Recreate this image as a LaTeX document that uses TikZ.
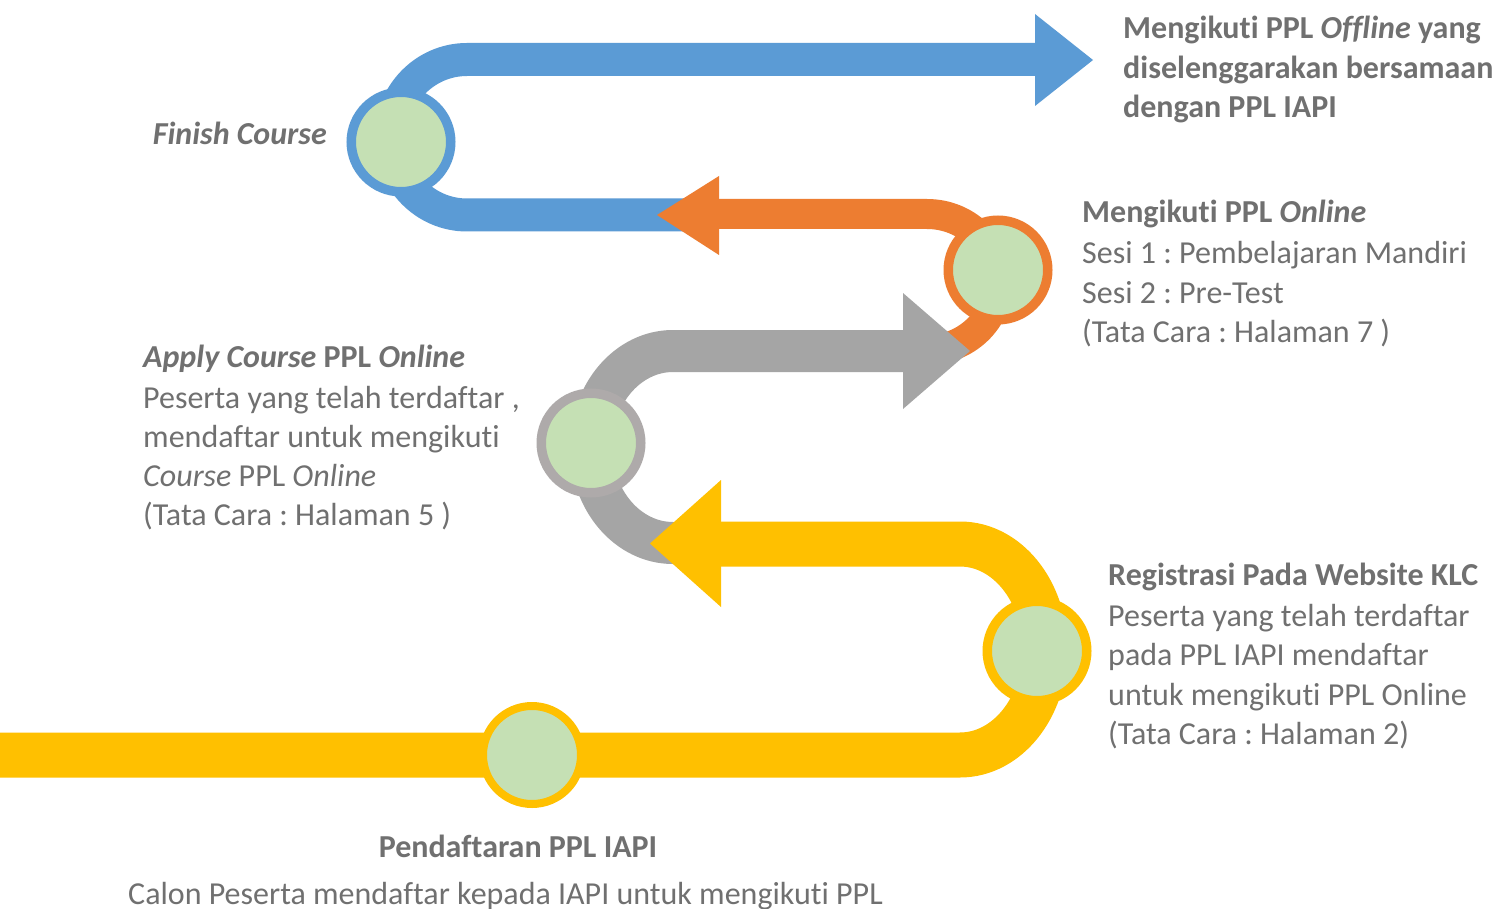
\documentclass[tikz,border=0pt]{standalone}
\usepackage{fontspec}
\setmainfont{Carlito}[Ligatures=NoCommon, Contextuals=NoAlternate, RawFeature={-liga;-clig;-dlig;-calt}]
\frenchspacing
\definecolor{cblue}{HTML}{5B9BD5}
\definecolor{corange}{HTML}{ED7D31}
\definecolor{cgray}{HTML}{A5A5A5}
\definecolor{cring}{HTML}{AEAAAA}
\definecolor{cyellow}{HTML}{FFC000}
\definecolor{leaf}{HTML}{C5E0B4}
\definecolor{txtgray}{HTML}{707070}
\begin{document}
\begin{tikzpicture}[x=1pt,y=-1pt,
  band/.style={line width=#1, line cap=butt, line join=round},
  ring/.style={circle, draw=#1, line width=9.5pt, fill=leaf, minimum size=99.5pt, inner sep=0pt},
  txt/.style={anchor=base west, inner sep=0pt, text=txtgray, font=\fontsize{32}{39}\selectfont},
  ttl/.style={txt, font=\fontsize{32}{39}\selectfont\bfseries}]
\useasboundingbox (0,0) rectangle (1509,909);
\fill[white] (0,0) rectangle (1509,909);
% blue
\draw[band=33pt, draw=cblue] (1040,59.5) -- (467,59.5) .. controls (425.03,59.5) and (391,94.31) .. (391,137.25) .. controls (391,180.19) and (425.03,215) .. (467,215) -- (700,215);
\fill[cblue] (1035,14) -- (1093,60) -- (1035,106) -- cycle;
\node[ring=cblue] (finish) at (401,142) {};
% orange
\draw[band=30pt, draw=corange] (719,214) -- (927,214) .. controls (966.2,214) and (998,244.4) .. (998,282) .. controls (998,319.6) and (966.2,350) .. (927,350);
\fill[corange] (719,176) -- (657,215) -- (719,255) -- cycle;
\node[ring=corange] (online) at (998,270) {};
% gray
\draw[band=42pt, draw=cgray] (905,351) -- (673,351) .. controls (627.7,351) and (591,394) .. (591,447) .. controls (591,500) and (627.7,543) .. (673,543) -- (700,543);
\fill[cgray] (903,293) -- (970,351) -- (903,409) -- cycle;
\node[ring=cring] (apply) at (591,443) {};
% yellow
\draw[band=45pt, draw=cyellow] (721,544) -- (960,544) .. controls (1006.9,544) and (1045,591.2) .. (1045,649.5) .. controls (1045,707.8) and (1006.9,755) .. (960,755) -- (0,755);
\fill[cyellow] (721,480) -- (650,543.5) -- (721,607) -- cycle;
\node[ring=cyellow] (klc) at (1037,651) {};
\node[ring=cyellow, line width=8pt, minimum size=98pt] (iapi) at (532,755) {};
% texts
\node[txt, anchor=base east, font=\fontsize{32}{39}\selectfont\bfseries\itshape] (finishtxt) at (327,145) {Finish Course};
\node[ttl] (t1a) at (1123,39) {Mengikuti PPL \textit{Offline} yang};
\node[ttl] (t1b) at (1123,79) {diselenggarakan bersamaan};
\node[ttl] (t1c) at (1123,118) {dengan PPL IAPI};
\node[ttl] (t2a) at (1082,223) {Mengikuti PPL \textit{Online}};
\node[txt] (t2b) at (1082,264) {Sesi 1 : Pembelajaran Mandiri};
\node[txt] (t2c) at (1082,303) {Sesi 2 : Pre-Test};
\node[txt] (t2d) at (1082,342) {(Tata Cara : Halaman 7 )};
\node[ttl] (t3a) at (143,367) {\textit{Apply Course} PPL \textit{Online}};
\node[txt] (t3b) at (143,408) {Peserta yang telah terdaftar ,};
\node[txt] (t3c) at (143,447) {mendaftar untuk mengikuti};
\node[txt] (t3d) at (143,486) {\textit{Course} PPL \textit{Online}};
\node[txt] (t3e) at (143,525) {(Tata Cara : Halaman 5 )};
\node[ttl] (t4a) at (1108,585) {Registrasi Pada Website KLC};
\node[txt] (t4b) at (1108,626) {Peserta yang telah terdaftar};
\node[txt] (t4c) at (1108,665) {pada PPL IAPI mendaftar};
\node[txt] (t4d) at (1108,705) {untuk mengikuti PPL Online};
\node[txt] (t4e) at (1108,744) {(Tata Cara : Halaman 2)};
\node[ttl, anchor=base] (t5a) at (518,857) {Pendaftaran PPL IAPI};
\node[txt] (t5b) at (128,904) {Calon Peserta mendaftar kepada IAPI untuk mengikuti PPL};
\end{tikzpicture}
\end{document}
